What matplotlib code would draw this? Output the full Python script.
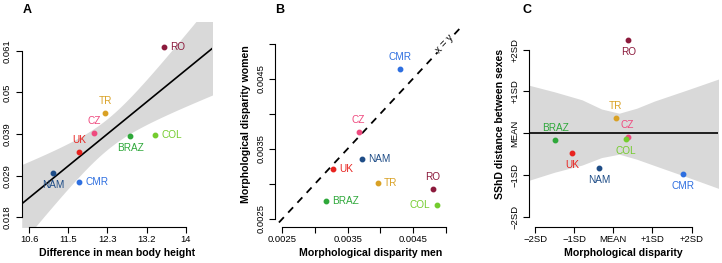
import numpy as np
import matplotlib
matplotlib.use("Agg")
import matplotlib.pyplot as plt

plt.rcParams['font.family'] = ['Liberation Sans', 'DejaVu Sans']

# shared country info
countries = ["RO", "TR", "CZ", "UK", "BRAZ", "COL", "NAM", "CMR"]
colors = ["#8c1a3c", "#d9a125", "#ef4a7f", "#e8231f", "#2ea83a", "#74cc2e", "#1f4d87", "#2e6fe0"]

# panel A: sexual shape dimorphism vs difference in mean body height
height_diff = [13.53, 12.25, 12.00, 11.69, 12.79, 13.34, 11.12, 11.69]
shape_dist = [0.0620, 0.0449, 0.0397, 0.0349, 0.0391, 0.0392, 0.0295, 0.0271]
a_xticks = [10.6, 11.45, 12.3, 13.15, 14.0]
a_xlabels = ["10.6", "11.5", "12.3", "13.2", "14"]
a_yticks = [0.018, 0.02875, 0.0395, 0.05025, 0.061]
a_ylabels = ["0.018", "0.029", "0.039", "0.05", "0.061"]

# panel B: morphological disparity, men vs women
disp_men = [0.004801, 0.003959, 0.003668, 0.003276, 0.003163, 0.004862, 0.003724, 0.004306]
disp_women = [0.002922, 0.003013, 0.003742, 0.003209, 0.002759, 0.002701, 0.003349, 0.004633]
b_ticks = [0.0025, 0.003, 0.0035, 0.004, 0.0045, 0.005]
b_labels = ["0.0025", "", "0.0035", "", "0.0045", ""]

# panel C: standardized disparity vs standardized SShD
disp_sd = [0.384, 0.060, 0.367, -1.057, -1.483, 0.332, -0.367, 1.782]
sshd_sd = [2.231, 0.359, -0.096, -0.470, -0.159, -0.143, -0.829, -0.964]
c_ticks = [-2, -1, 0, 1, 2]
c_labels = ["\u22122SD", "\u22121SD", "MEAN", "+1SD", "+2SD"]
# confidence band of panel C
c_band_x = [-2.18, -1.5, -0.8, -0.3, 0.15, 0.6, 1.05, 1.9, 2.7]
c_band_hi = [1.155, 0.99, 0.80, 0.58, 0.48, 0.60, 0.77, 1.04, 1.30]
c_band_lo = [-1.13, -0.93, -0.76, -0.58, -0.50, -0.62, -0.77, -1.05, -1.32]

# label offsets (points) per panel: (dx, dy, ha, va)
R, L, UP, DN = (4.5, 0, "left", "center"), (-4.5, 0, "right", "center"), (0, 5, "center", "bottom"), (0, -5, "center", "top")
a_pos = [R, UP, UP, UP, DN, R, DN, R]
b_pos = [UP, R, UP, R, R, L, R, UP]
c_pos = [DN, UP, UP, DN, UP, DN, DN, DN]

BAND = "#d9d9d9"
TICK_FS, LAB_FS, PT_FS = 6.8, 7.6, 7.2


def style(ax, xt, xl, yt, yl):
    for s in ("top", "right"):
        ax.spines[s].set_visible(False)
    ax.spines["left"].set_bounds(yt[0], yt[-1])
    ax.spines["bottom"].set_bounds(xt[0], xt[-1])
    for s in ("left", "bottom"):
        ax.spines[s].set_linewidth(0.8)
    ax.set_xticks(xt)
    ax.set_xticklabels(xl, fontsize=TICK_FS)
    ax.set_yticks(yt)
    ax.set_yticklabels(yl, fontsize=TICK_FS, rotation=90, va="center")
    ax.tick_params(axis="both", length=4.5, width=0.8)
    ax.tick_params(axis="x", pad=1.5)
    ax.tick_params(axis="y", pad=2.5)


def points(ax, xs, ys, pos):
    for name, c, x, y, (dx, dy, ha, va) in zip(countries, colors, xs, ys, pos):
        ax.plot(x, y, "o", color=c, ms=3.2, zorder=4)
        ax.annotate(name, (x, y), xytext=(dx, dy), textcoords="offset points",
                    ha=ha, va=va, fontsize=PT_FS, color=c, zorder=5)


fig = plt.figure(figsize=(7.22, 2.63), dpi=100)

# ---- A
axa = fig.add_axes([0.0301, 0.138, 0.2642, 0.7783])
axa.set_xlim(10.435, 14.583)
axa.set_ylim(0.01559, 0.0684)
xa, ya = np.array(height_diff), np.array(shape_dist)
slope, icpt = np.polyfit(xa, ya, 1)
n = len(xa)
s = np.sqrt(np.sum((ya - (slope * xa + icpt)) ** 2) / (n - 2))
grid = np.linspace(10.435, 14.583, 200)
fit = slope * grid + icpt
se = s * np.sqrt(1 / n + (grid - xa.mean()) ** 2 / np.sum((xa - xa.mean()) ** 2))
axa.fill_between(grid, fit - 1.5 * se, fit + 1.5 * se, color=BAND, lw=0, zorder=1)
axa.plot(grid, fit, color="black", lw=1.2, zorder=2)
points(axa, height_diff, shape_dist, a_pos)
style(axa, a_xticks, a_xlabels, a_yticks, a_ylabels)
axa.set_xlabel("Difference in mean body height", fontsize=LAB_FS, fontweight="bold", labelpad=3)

# ---- B
axb = fig.add_axes([0.3809, 0.138, 0.2644, 0.7787])
axb.set_xlim(0.00239, 0.00531)
axb.set_ylim(0.00239, 0.00531)
axb.plot([0.00245, 0.00526], [0.00245, 0.00526], color="black", lw=1.3, ls=(0, (4, 3.5)), zorder=2)
axb.text(0.00499, 0.00500, "x = y", rotation=47, fontsize=PT_FS, ha="center", va="center",
         bbox=dict(fc="white", ec="none", pad=0.5), zorder=3)
points(axb, disp_men, disp_women, b_pos)
style(axb, b_ticks, b_labels, b_ticks, b_labels)
axb.set_xlabel("Morphological disparity men", fontsize=LAB_FS, fontweight="bold", labelpad=3)
axb.set_ylabel("Morphological disparity women", fontsize=LAB_FS, fontweight="bold", labelpad=4)

# ---- C
axc = fig.add_axes([0.7331, 0.138, 0.2618, 0.7783])
axc.set_xlim(-2.148, 2.685)
axc.set_ylim(-2.233, 2.66)
axc.fill_between(c_band_x, c_band_lo, c_band_hi, color=BAND, lw=0, zorder=1)
axc.axhline(0, color="black", lw=1.2, zorder=2)
points(axc, disp_sd, sshd_sd, c_pos)
style(axc, c_ticks, c_labels, c_ticks, c_labels)
axc.set_xlabel("Morphological disparity", fontsize=LAB_FS, fontweight="bold", labelpad=3)
axc.set_ylabel("SShD distance between sexes", fontsize=LAB_FS, fontweight="bold", labelpad=4)

for lab, x in (("A", 26.7), ("B", 279.3), ("C", 526.7)):
    fig.text(x / 722, 1 - 10 / 263, lab, fontsize=9, fontweight="bold", ha="center", va="center")

fig.savefig("out.png", dpi=100)
